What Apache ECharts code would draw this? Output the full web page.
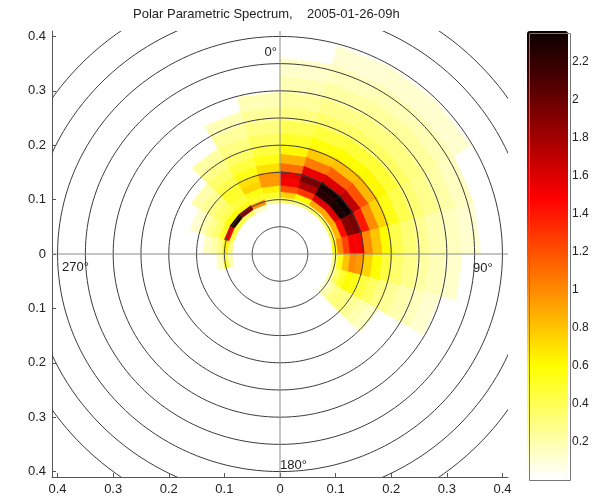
<!DOCTYPE html>
<html>
<head>
<meta charset="utf-8">
<script src="https://cdn.jsdelivr.net/npm/echarts@6/dist/echarts.min.js"></script>
<style>
  html, body { margin: 0; padding: 0; background: #fff; }
  #chart { width: 599px; height: 496px; }
</style>
</head>
<body>
<div id="chart"></div>
<script>
// Direction bins: lower edge in degrees, clockwise from north, 15 degrees wide
const dirEdges = [0, 15, 30, 45, 60, 75, 90, 105, 120, 135, 150, 165,
                  180, 195, 210, 225, 240, 255, 270, 285, 300, 315, 330, 345];
const dirWidth = 15;

// Frequency bin edges (Hz) used as the radius
const freqEdges = [0.0864, 0.095, 0.1045, 0.115, 0.1265, 0.139, 0.153, 0.168,
                   0.185, 0.204, 0.224, 0.247, 0.271, 0.298, 0.328, 0.361, 0.397];

// Spectral density, one row per direction bin, one value per frequency bin (0 = empty)
const energy = [
  [0, 0.40, 0.75, 1.20, 1.50, 1.55, 1.10, 0.85, 0.62, 0.50, 0.40, 0.30, 0.24, 0.18, 0.13, 0],
  [0, 0.30, 0.60, 1.30, 1.75, 1.95, 1.55, 1.05, 0.78, 0.58, 0.45, 0.35, 0.28, 0.22, 0.16, 0.11],
  [0, 0.35, 0.90, 1.60, 2.25, 2.30, 1.60, 1.15, 0.82, 0.60, 0.47, 0.36, 0.30, 0.24, 0.18, 0.12],
  [0, 0.35, 0.90, 1.60, 2.30, 2.36, 1.70, 1.20, 0.85, 0.62, 0.48, 0.37, 0.30, 0.24, 0.18, 0.12],
  [0, 0.40, 0.85, 1.45, 1.90, 1.95, 1.40, 1.00, 0.75, 0.55, 0.42, 0.33, 0.27, 0.21, 0.15, 0],
  [0, 0.55, 1.00, 1.25, 1.50, 1.50, 1.00, 0.80, 0.60, 0.42, 0.33, 0.26, 0.20, 0.16, 0.12, 0],
  [0, 0.30, 0.55, 0.80, 1.00, 0.95, 0.75, 0.60, 0.45, 0.35, 0.28, 0.22, 0.17, 0.13, 0, 0],
  [0, 0.20, 0.35, 0.50, 0.60, 0.55, 0.45, 0.38, 0.30, 0.25, 0.20, 0.16, 0.12, 0, 0, 0],
  [0, 0.12, 0.20, 0.28, 0.32, 0.30, 0.25, 0.20, 0.15, 0, 0, 0, 0, 0, 0, 0],
  [0, 0, 0, 0, 0, 0, 0, 0, 0, 0, 0, 0, 0, 0, 0, 0],
  [0, 0, 0, 0, 0, 0, 0, 0, 0, 0, 0, 0, 0, 0, 0, 0],
  [0, 0, 0, 0, 0, 0, 0, 0, 0, 0, 0, 0, 0, 0, 0, 0],
  [0, 0, 0, 0, 0, 0, 0, 0, 0, 0, 0, 0, 0, 0, 0, 0],
  [0, 0, 0, 0, 0, 0, 0, 0, 0, 0, 0, 0, 0, 0, 0, 0],
  [0, 0, 0, 0, 0, 0, 0, 0, 0, 0, 0, 0, 0, 0, 0, 0],
  [0, 0, 0, 0, 0, 0, 0, 0, 0, 0, 0, 0, 0, 0, 0, 0],
  [0, 0, 0, 0, 0, 0, 0, 0, 0, 0, 0, 0, 0, 0, 0, 0],
  [0.20, 0.45, 0.15, 0, 0, 0, 0, 0, 0, 0, 0, 0, 0, 0, 0, 0],
  [0.30, 0.65, 0.30, 0.20, 0.15, 0, 0, 0, 0, 0, 0, 0, 0, 0, 0, 0],
  [0.45, 1.50, 0.50, 0.35, 0.28, 0.20, 0.12, 0, 0, 0, 0, 0, 0, 0, 0, 0],
  [0.45, 2.30, 0.60, 0.40, 0.35, 0.30, 0.25, 0.20, 0, 0, 0, 0, 0, 0, 0, 0],
  [0.35, 1.90, 0.55, 0.45, 0.50, 0.50, 0.42, 0.35, 0.28, 0.22, 0, 0, 0, 0, 0, 0],
  [0.15, 1.00, 0.50, 0.55, 0.75, 0.70, 0.55, 0.45, 0.36, 0.30, 0.24, 0.18, 0, 0, 0, 0],
  [0, 0.30, 0.50, 0.65, 0.95, 0.95, 0.70, 0.55, 0.45, 0.37, 0.30, 0.24, 0.18, 0, 0, 0]
];

// Range rings (Hz)
const ringRadii = [0.05, 0.1, 0.15, 0.2, 0.25, 0.3, 0.35, 0.4, 0.45, 0.5];
// Axis ticks, labelled by magnitude
const axisTicks = [-0.4, -0.3, -0.2, -0.1, 0, 0.1, 0.2, 0.3, 0.4];
// Colour bar ticks
const colorbarTicks = [0.2, 0.4, 0.6, 0.8, 1, 1.2, 1.4, 1.6, 1.8, 2, 2.2];
const colorRange = [0.009, 2.364];

const FONT = '"Liberation Sans", Arial, sans-serif';
const LIM = 0.41;

const cells = [];
energy.forEach((row, i) => {
  row.forEach((v, j) => { if (v > 0) cells.push([i, j, v]); });
});

function polarPoint(api, r, deg) {
  const a = deg * Math.PI / 180;
  return api.coord([r * Math.sin(a), r * Math.cos(a)]);
}

function renderCell(params, api) {
  const d0 = dirEdges[api.value(0)];
  const d1 = d0 + dirWidth;
  const j = api.value(1);
  const f0 = freqEdges[j], f1 = freqEdges[j + 1];
  const color = api.visual('color');
  return {
    type: 'polygon',
    shape: { points: [polarPoint(api, f0, d0), polarPoint(api, f1, d0),
                      polarPoint(api, f1, d1), polarPoint(api, f0, d1)] },
    style: { fill: color, stroke: color, lineWidth: 0.6 }
  };
}

function renderRing(params, api) {
  const r = api.value(0);
  const pts = [];
  for (let k = 0; k <= 360; k += 2) pts.push(polarPoint(api, r, k));
  return {
    type: 'polyline',
    shape: { points: pts },
    style: { stroke: '#3c3c3c', lineWidth: 1, fill: null }
  };
}

function renderCross(params, api) {
  const style = { stroke: '#8a8a8a', lineWidth: 1 };
  const h0 = api.coord([-LIM, 0]), h1 = api.coord([LIM, 0]);
  const v0 = api.coord([0, -LIM]), v1 = api.coord([0, LIM]);
  return {
    type: 'group',
    children: [
      { type: 'line', shape: { x1: h0[0], y1: h0[1], x2: h1[0], y2: h1[1] }, style },
      { type: 'line', shape: { x1: v0[0], y1: v0[1], x2: v1[0], y2: v1[1] }, style }
    ]
  };
}

const magnitude = v => String(Math.abs(Math.round(v * 10) / 10));
const axisText = { color: '#222', fontSize: 13, fontFamily: FONT };

const chart = echarts.init(document.getElementById('chart'));
chart.setOption({
  animation: false,
  backgroundColor: '#fff',
  grid: [
    { left: 52, top: 31, width: 456, height: 446 },
    { left: 527, top: 31, width: 41, height: 447 }
  ],
  xAxis: [
    {
      gridIndex: 0, type: 'value', min: -LIM, max: LIM, position: 'bottom',
      axisLine: { onZero: false, lineStyle: { color: '#555', width: 1 } },
      axisTick: { inside: true, length: 4, customValues: axisTicks, lineStyle: { color: '#555' } },
      axisLabel: { customValues: axisTicks, formatter: magnitude, margin: 6, ...axisText },
      splitLine: { show: false }
    },
    { gridIndex: 1, type: 'value', min: 0, max: 1, show: false }
  ],
  yAxis: [
    {
      gridIndex: 0, type: 'value', min: -LIM, max: LIM, position: 'left',
      axisLine: { onZero: false, lineStyle: { color: '#555', width: 1 } },
      axisTick: { inside: true, length: 4, customValues: axisTicks, lineStyle: { color: '#555' } },
      axisLabel: { customValues: axisTicks, formatter: magnitude, margin: 6, ...axisText },
      splitLine: { show: false }
    },
    {
      gridIndex: 1, type: 'value', min: colorRange[0], max: colorRange[1], position: 'right',
      axisLine: { show: false },
      axisTick: { show: true, length: 3, customValues: colorbarTicks, lineStyle: { color: '#555' } },
      axisLabel: { customValues: colorbarTicks, margin: 4, color: '#222', fontSize: 12, fontFamily: FONT },
      splitLine: { show: false }
    }
  ],
  visualMap: {
    type: 'continuous',
    min: colorRange[0], max: colorRange[1],
    seriesIndex: 0, dimension: 2,
    orient: 'vertical', left: 527, top: 31,
    itemWidth: 41, itemHeight: 447, padding: 0,
    text: null, calculable: false, hoverLink: false,
    inRange: {
      color: ['#ffffff', '#ffff80', '#ffff00', '#ffaa00', '#ff5500',
              '#ff0000', '#aa0000', '#550000', '#0b0000']
    }
  },
  graphic: [
    { type: 'text', left: 133, top: 8, z: 50,
      style: { text: 'Polar Parametric Spectrum,    2005-01-26-09h', fill: '#222', font: '13px ' + FONT } },
    { type: 'text', right: 599 - 277, top: 46, z: 50,
      style: { text: '0°', fill: '#222', font: '13px ' + FONT } },
    { type: 'text', left: 473, top: 262, z: 50,
      style: { text: '90°', fill: '#222', font: '13px ' + FONT } },
    { type: 'text', left: 280, top: 459, z: 50,
      style: { text: '180°', fill: '#222', font: '13px ' + FONT } },
    { type: 'text', left: 62, top: 261, z: 50,
      style: { text: '270°', fill: '#222', font: '13px ' + FONT } },
    { type: 'rect', left: 527, top: 31, z: 50,
      shape: { width: 41, height: 447 },
      style: { fill: null, stroke: '#777', lineWidth: 1 } }
  ],
  series: [
    {
      type: 'custom', name: 'spectrum', coordinateSystem: 'cartesian2d',
      xAxisIndex: 0, yAxisIndex: 0, clip: true, z: 2,
      renderItem: renderCell, data: cells
    },
    {
      type: 'custom', name: 'rings', coordinateSystem: 'cartesian2d',
      xAxisIndex: 0, yAxisIndex: 0, clip: true, z: 3, silent: true,
      renderItem: renderRing, data: ringRadii.map(r => [r, 0])
    },
    {
      type: 'custom', name: 'cross', coordinateSystem: 'cartesian2d',
      xAxisIndex: 0, yAxisIndex: 0, clip: true, z: 4, silent: true,
      renderItem: renderCross, data: [[0, 0]]
    }
  ]
});
</script>
</body>
</html>
